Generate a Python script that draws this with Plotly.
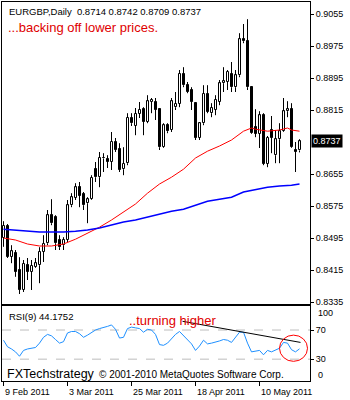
import plotly.graph_objects as go

# ---------------- data ----------------
opens = [0.8495, 0.8525, 0.8448, 0.8457, 0.8415, 0.8365, 0.8427, 0.8410, 0.8422, 0.8427,
         0.8460, 0.8482, 0.8552, 0.8547, 0.8490, 0.8477, 0.8490, 0.8577, 0.8595, 0.8622,
         0.8605, 0.8582, 0.8592, 0.8667, 0.8647, 0.8695, 0.8692, 0.8685, 0.8735, 0.8717,
         0.8667, 0.8682, 0.8795, 0.8775, 0.8805, 0.8817, 0.8785, 0.8835, 0.8835, 0.8817,
         0.8722, 0.8777, 0.8765, 0.8822, 0.8830, 0.8905, 0.8877, 0.8865, 0.8832, 0.8745,
         0.8782, 0.8855, 0.8807, 0.8815, 0.8835, 0.8882, 0.8885, 0.8905, 0.8872, 0.8902,
         0.8992, 0.8987, 0.8872, 0.8772, 0.8755, 0.8802, 0.8680, 0.8765, 0.8702, 0.8742,
         0.8762, 0.8812, 0.8817, 0.8715, 0.8714]
highs = [0.8537, 0.8530, 0.8477, 0.8465, 0.8447, 0.8440, 0.8445, 0.8440, 0.8445, 0.8472,
         0.8502, 0.8565, 0.8592, 0.8552, 0.8502, 0.8497, 0.8590, 0.8607, 0.8632, 0.8635,
         0.8610, 0.8597, 0.8652, 0.8685, 0.8710, 0.8707, 0.8702, 0.8760, 0.8745, 0.8732,
         0.8722, 0.8807, 0.8807, 0.8820, 0.8835, 0.8822, 0.8852, 0.8845, 0.8845, 0.8820,
         0.8782, 0.8782, 0.8845, 0.8860, 0.8915, 0.8922, 0.8885, 0.8872, 0.8835, 0.8785,
         0.8877, 0.8877, 0.8832, 0.8852, 0.8890, 0.8922, 0.8915, 0.8935, 0.8915, 0.9007,
         0.9030, 0.9042, 0.8875, 0.8817, 0.8812, 0.8807, 0.8750, 0.8800, 0.8765, 0.8782,
         0.8845, 0.8837, 0.8832, 0.8735, 0.8742]
lows = [0.8473, 0.8445, 0.8432, 0.8398, 0.8355, 0.8360, 0.8390, 0.8365, 0.8420, 0.8382,
        0.8435, 0.8477, 0.8527, 0.8465, 0.8465, 0.8465, 0.8485, 0.8572, 0.8590, 0.8572,
        0.8565, 0.8532, 0.8590, 0.8635, 0.8622, 0.8660, 0.8670, 0.8665, 0.8710, 0.8660,
        0.8652, 0.8677, 0.8775, 0.8752, 0.8795, 0.8752, 0.8782, 0.8807, 0.8790, 0.8715,
        0.8720, 0.8757, 0.8760, 0.8815, 0.8822, 0.8872, 0.8857, 0.8815, 0.8740, 0.8740,
        0.8777, 0.8807, 0.8797, 0.8802, 0.8827, 0.8860, 0.8865, 0.8860, 0.8860, 0.8897,
        0.8982, 0.8865, 0.8755, 0.8747, 0.8720, 0.8677, 0.8672, 0.8707, 0.8682, 0.8682,
        0.8760, 0.8797, 0.8720, 0.8660, 0.8709]
closes = [0.8525, 0.8448, 0.8462, 0.8410, 0.8365, 0.8430, 0.8410, 0.8425, 0.8432, 0.8460,
          0.8480, 0.8552, 0.8532, 0.8482, 0.8472, 0.8490, 0.8577, 0.8597, 0.8622, 0.8600,
          0.8577, 0.8592, 0.8645, 0.8647, 0.8695, 0.8694, 0.8685, 0.8735, 0.8715, 0.8665,
          0.8680, 0.8795, 0.8782, 0.8805, 0.8815, 0.8785, 0.8837, 0.8840, 0.8815, 0.8722,
          0.8777, 0.8762, 0.8837, 0.8830, 0.8905, 0.8877, 0.8860, 0.8835, 0.8745, 0.8782,
          0.8855, 0.8810, 0.8820, 0.8840, 0.8882, 0.8887, 0.8910, 0.8872, 0.8902, 0.8992,
          0.8987, 0.8872, 0.8757, 0.8755, 0.8802, 0.8680, 0.8745, 0.8745, 0.8742, 0.8762,
          0.8812, 0.8817, 0.8722, 0.8710, 0.8737]

ma_idx = [0, 3, 6, 9, 12, 15, 18, 21, 24, 27, 30, 33, 36, 39, 42, 45, 48, 51, 54, 57,
          60, 62, 63, 66, 69, 71, 72, 74]
ma_red = [0.8495, 0.8490, 0.8480, 0.8475, 0.8475, 0.8480, 0.8492, 0.8507, 0.8522, 0.8540,
          0.8560, 0.8580, 0.8607, 0.8630, 0.8647, 0.8667, 0.8695, 0.8712, 0.8725, 0.8740,
          0.8762, 0.8770, 0.8767, 0.8762, 0.8765, 0.8770, 0.8765, 0.8762]
ma_blue = [0.8517, 0.8515, 0.8512, 0.8510, 0.8510, 0.8510, 0.8512, 0.8515, 0.8520, 0.8527,
           0.8535, 0.8540, 0.8547, 0.8555, 0.8562, 0.8567, 0.8577, 0.8587, 0.8592, 0.8597,
           0.8610, 0.8614, 0.8617, 0.8622, 0.8625, 0.8626, 0.8627, 0.8630]

rsi = [56, 47, 44, 40, 34, 42, 44, 45, 46, 52,
       60, 64, 62, 57, 52, 54, 66, 68, 68, 65,
       60, 63, 67, 70, 72, 73, 75, 77, 71, 59,
       60, 72, 74, 73, 72, 67, 71, 70, 64, 50,
       49, 52, 58, 64, 68, 62, 56, 51, 42, 48,
       56, 51, 52, 53, 55, 57, 56, 53, 60, 67,
       67, 52, 40, 41, 42, 36, 42, 40, 42, 45,
       53, 52, 43, 40, 44.1752]

date_tick_idx = [0, 16, 32, 48, 64]
date_tick_labels = ["9 Feb 2011", "3 Mar 2011", "25 Mar 2011", "18 Apr 2011", "10 May 2011"]
price_ticks = [0.8335, 0.8415, 0.8495, 0.8575, 0.8655, 0.8815, 0.8895, 0.8975, 0.9055]
rsi_levels = [30, 70]
last_price = closes[-1]

# ---------------- figure ----------------
W, H = 350, 400
ML, MR, MT, MB = 2, 40, 2, 19
PW, PH = W - ML - MR, H - MT - MB


def px_x(x):
    return (x - ML) / PW


def px_y(y):
    return 1 - (y - MT) / PH


idx = list(range(len(opens)))
FONT = "Liberation Sans"

# candle bodies and wicks built from OHLC
body_base = [min(o, c) for o, c in zip(opens, closes)]
body_len = [max(abs(c - o), 0.00003) for o, c in zip(opens, closes)]
body_col = ["white" if c >= o else "black" for o, c in zip(opens, closes)]
wx, wy = [], []
for i, o, h, l, c in zip(idx, opens, highs, lows, closes):
    top, bot = max(o, c), min(o, c)
    wx += [i, i, None, i, i, None]
    wy += [h, top, None, bot, l, None]

fig = go.Figure()
fig.add_trace(go.Bar(x=idx, y=body_len, base=body_base, width=0.5,
                     marker=dict(color=body_col, line=dict(color="black", width=1)),
                     xaxis="x", yaxis="y", hoverinfo="skip"))
fig.add_trace(go.Scatter(x=wx, y=wy, mode="lines", line=dict(color="black", width=1),
                         xaxis="x", yaxis="y", hoverinfo="skip"))
fig.add_trace(go.Scatter(x=ma_idx, y=ma_red, mode="lines",
                         line=dict(color="red", width=1), xaxis="x", yaxis="y"))
fig.add_trace(go.Scatter(x=ma_idx, y=ma_blue, mode="lines",
                         line=dict(color="blue", width=1.5), xaxis="x", yaxis="y"))
fig.add_trace(go.Scatter(x=idx, y=rsi, mode="lines",
                         line=dict(color="#1E90FF", width=1), xaxis="x2", yaxis="y2"))

xr = [-0.375, 76.625]
main_bottom = px_y(304)
rsi_top = px_y(306)

axis_common = dict(showgrid=False, zeroline=False, showline=True, mirror=True,
                   linecolor="black", linewidth=1)

fig.update_layout(
    width=W, height=H, margin=dict(l=ML, r=MR, t=MT, b=MB),
    paper_bgcolor="white", plot_bgcolor="white", showlegend=False, bargap=0,
    xaxis=dict(domain=[0, 1], range=xr, showticklabels=False, ticks="",
               anchor="y", **axis_common),
    yaxis=dict(domain=[main_bottom, 1], range=[0.8330, 0.9085], side="right",
               tickvals=price_ticks, ticktext=[f"{v:.4f}" for v in price_ticks],
               ticks="outside", ticklen=3, tickcolor="black", anchor="x",
               tickfont=dict(family=FONT, size=9, color="black"), **axis_common),
    xaxis2=dict(domain=[0, 1], range=xr, anchor="y2", tickvals=date_tick_idx,
                showticklabels=False, ticks="outside", ticklen=4, tickcolor="black",
                **axis_common),
    yaxis2=dict(domain=[0, rsi_top], range=[0, 103], side="right", anchor="x2",
                tickvals=rsi_levels, ticktext=[str(v) for v in rsi_levels],
                ticks="outside", ticklen=3, tickcolor="black",
                tickfont=dict(family=FONT, size=9, color="black"), **axis_common),
)

shapes = []
for lv in rsi_levels:
    shapes.append(dict(type="line", xref="x2 domain", yref="y2", x0=0, x1=1, y0=lv, y1=lv,
                       line=dict(color="#BDBDBD", width=1, dash="dash"), layer="below"))
# analyst trendline and circle on RSI
trend_x = [44.75, 74.25]
trend_y = [82, 53]
shapes.append(dict(type="line", xref="x2", yref="y2", x0=trend_x[0], x1=trend_x[1],
                   y0=trend_y[0], y1=trend_y[1], line=dict(color="black", width=1)))
shapes.append(dict(type="circle", xref="x2", yref="y2", x0=69, x1=76, y0=27, y1=63,
                   line=dict(color="red", width=1)))
fig.update_layout(shapes=shapes)

ann = []
ann.append(dict(x=px_x(7), y=px_y(11), xref="paper", yref="paper", xanchor="left",
                yanchor="middle", showarrow=False,
                text="EURGBP,Daily  " + " ".join(f"{v:.4f}" for v in
                                                 [opens[-1], highs[-1], lows[-1], closes[-1]]),
                font=dict(family=FONT, size=9.5, color="black")))
ann.append(dict(x=px_x(6), y=px_y(27), xref="paper", yref="paper", xanchor="left",
                yanchor="middle", showarrow=False, text="...backing off lower prices.",
                font=dict(family=FONT, size=13, color="#E00000")))
ann.append(dict(x=px_x(7), y=px_y(316), xref="paper", yref="paper", xanchor="left",
                yanchor="middle", showarrow=False, text=f"RSI(9) {rsi[-1]:.4f}",
                font=dict(family=FONT, size=9.5, color="black")))
ann.append(dict(x=px_x(127), y=px_y(320), xref="paper", yref="paper", xanchor="left",
                yanchor="middle", showarrow=False, text="..turning higher",
                font=dict(family=FONT, size=13, color="#E00000")))
ann.append(dict(x=px_x(5), y=px_y(374), xref="paper", yref="paper", xanchor="left",
                yanchor="middle", showarrow=False, text="FXTechstrategy",
                font=dict(family=FONT, size=12.5, color="black")))
ann.append(dict(x=px_x(97), y=px_y(374), xref="paper", yref="paper", xanchor="left",
                yanchor="middle", showarrow=False, text="© 2001-2010 MetaQuotes Software Corp.",
                font=dict(family=FONT, size=10, color="black")))
for lbl, yy in [("100", 313), ("0", 375)]:
    ann.append(dict(x=px_x(316), y=px_y(yy), xref="paper", yref="paper", xanchor="left",
                    yanchor="middle", showarrow=False, text=lbl,
                    font=dict(family=FONT, size=9, color="black")))
for i, lbl in zip(date_tick_idx, date_tick_labels):
    ann.append(dict(x=i, y=px_y(392), xref="x2", yref="paper", xanchor="left",
                    yanchor="middle", showarrow=False, text=lbl, xshift=-1,
                    font=dict(family=FONT, size=9, color="black")))
ann.append(dict(x=1, y=last_price, xref="paper", yref="y", xanchor="left", yanchor="middle",
                xshift=1, showarrow=False, text=f"{last_price:.4f}", bgcolor="black",
                borderpad=1, font=dict(family=FONT, size=9, color="white")))
fig.update_layout(annotations=ann)

fig.write_html("out.html")
